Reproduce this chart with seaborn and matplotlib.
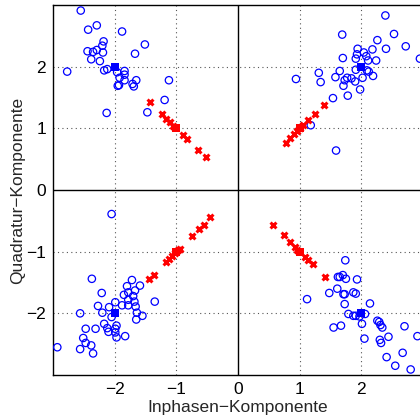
import numpy as np
import pandas as pd
import matplotlib
matplotlib.use("Agg")
import matplotlib.pyplot as plt
import seaborn as sns

# Received symbols (noisy), blue circles
rx_I = [
    # quadrant (-,+)
    -2.55, -2.43, -2.29, -1.88, -2.18, -2.20, -1.51, -2.44, -2.35, -2.29, -2.19, -1.67,
    -2.38, -2.24, -2.77, -2.17, -2.12, -1.96, -1.84, -1.84, -1.92, -1.84, -1.65, -1.93,
    -1.95, -1.71, -1.69, -1.12, -1.19, -1.47, -2.13,
    # quadrant (+,+)
    2.39, 1.69, 2.53, 2.26, 2.72, 2.40, 1.94, 2.18, 2.04, 1.93, 2.08, 2.95, 1.70, 1.91,
    2.11, 2.24, 1.91, 2.09, 2.12, 1.65, 1.31, 2.19, 2.02, 1.58, 1.77, 1.84, 1.73, 1.90,
    1.71, 0.94, 1.34, 1.98, 1.78, 1.54, 1.18, 1.59,
    # quadrant (-,-)
    -2.05, -2.37, -1.72, -1.80, -1.59, -2.21, -1.78, -1.67, -1.85, -1.70, -1.78, -1.68,
    -1.35, -1.99, -2.27, -2.09, -1.88, -1.78, -1.66, -2.20, -2.56, -1.64, -2.05, -1.55,
    -1.65, -2.17, -2.12, -1.97, -1.99, -2.47, -2.31, -2.10, -1.99, -1.97, -1.83, -2.51,
    -2.47, -2.38, -2.93, -2.56, -2.35,
    # quadrant (+,-)
    1.74, 1.62, 1.65, 1.70, 1.75, 1.93, 1.61, 1.48, 1.71, 1.73, 1.87, 1.91, 1.12, 1.73,
    2.14, 1.79, 1.87, 1.91, 2.06, 1.97, 2.26, 2.29, 1.55, 1.67, 2.01, 2.31, 2.34, 2.70,
    2.05, 2.44, 2.91, 2.30, 2.32, 2.67, 2.41, 2.55, 2.80,
]
rx_Q = [
    2.91, 2.60, 2.67, 2.57, 2.41, 2.34, 2.36, 2.25, 2.24, 2.27, 2.23, 2.21,
    2.12, 2.09, 1.92, 1.94, 1.96, 1.91, 1.93, 1.87, 1.82, 1.78, 1.78, 1.70,
    1.69, 1.72, 1.68, 1.78, 1.46, 1.26, 1.25,
    2.83, 2.52, 2.53, 2.43, 2.33, 2.29, 2.29, 2.28, 2.23, 2.20, 2.17, 2.13, 2.14, 2.13,
    2.10, 2.10, 1.95, 1.94, 1.92, 1.93, 1.90, 1.85, 1.82, 1.83, 1.82, 1.81, 1.78, 1.76,
    1.69, 1.80, 1.75, 1.63, 1.53, 1.49, 1.05, 0.64,
    -0.39, -1.44, -1.46, -1.56, -1.55, -1.67, -1.66, -1.63, -1.70, -1.72, -1.78, -1.81,
    -1.81, -1.82, -1.88, -1.90, -1.87, -1.87, -1.89, -1.99, -2.00, -1.99, -2.06, -2.04,
    -2.10, -2.17, -2.24, -2.20, -2.25, -2.25, -2.25, -2.30, -2.31, -2.39, -2.37, -2.40,
    -2.48, -2.52, -2.55, -2.58, -2.65,
    -1.14, -1.41, -1.41, -1.38, -1.44, -1.45, -1.60, -1.67, -1.69, -1.69, -1.66, -1.68, -1.77, -1.85,
    -1.84, -2.01, -2.04, -2.04, -2.01, -2.05, -2.12, -2.14, -2.23, -2.20, -2.17, -2.19, -2.23, -2.21,
    -2.41, -2.38, -2.37, -2.43, -2.48, -2.64, -2.71, -2.85, -2.91,
]

# Ideal constellation points (blue filled squares)
ref_I = [-2, 2, -2, 2]
ref_Q = [2, 2, -2, -2]

# Second symbol set (red crosses)
x_I = [
    -1.42, -1.23, -1.16, -1.10, -1.05, -0.89, -0.83, -0.65, -0.52,
    1.39, 1.25, 1.13, 0.78, 0.84, 0.90, 0.95, 1.00, 1.06,
    -1.45, -1.37, -1.17, -1.12, -1.07, -1.02, -0.98, -0.94, -0.74, -0.63, -0.55, -0.45,
    0.56, 0.75, 0.85, 0.93, 0.96, 1.09, 1.13, 1.21, 1.41,
]
x_Q = [
    1.42, 1.23, 1.15, 1.10, 1.04, 0.89, 0.83, 0.65, 0.53,
    1.38, 1.23, 1.13, 0.77, 0.84, 0.90, 0.96, 1.00, 1.06,
    -1.45, -1.38, -1.17, -1.12, -1.07, -1.02, -0.98, -0.95, -0.74, -0.64, -0.56, -0.43,
    -0.56, -0.73, -0.85, -0.92, -0.97, -1.08, -1.13, -1.20, -1.41,
]
xref_I = [-1, 1, -1, 1]
xref_Q = [1, 1, -1, -1]

ticks = [-2, -1, 0, 1, 2]

sns.set_style("white")
plt.rcParams['font.family'] = ['Liberation Sans', 'DejaVu Sans']

fig = plt.figure(figsize=(4.2, 4.17), dpi=100)
ax = fig.add_axes([53/420, 42/417, 370/420, 370/417])

ax.axhline(0, color='black', lw=1.0, zorder=1)
ax.axvline(0, color='black', lw=1.0, zorder=1)
for t in [-2, -1, 1, 2]:
    ax.axhline(t, color='#555555', lw=0.8, ls=(0, (1, 3)), zorder=0)
    ax.axvline(t, color='#555555', lw=0.8, ls=(0, (1, 3)), zorder=0)

df_rx = pd.DataFrame({'I': rx_I, 'Q': rx_Q})
df_ref = pd.DataFrame({'I': ref_I, 'Q': ref_Q})
df_x = pd.DataFrame({'I': x_I, 'Q': x_Q})
df_xref = pd.DataFrame({'I': xref_I, 'Q': xref_Q})

sns.scatterplot(data=df_rx, x='I', y='Q', ax=ax, marker='o', s=28,
                facecolors='none', edgecolor='#0000ff', linewidth=0.9, zorder=3)
sns.scatterplot(data=df_ref, x='I', y='Q', ax=ax, marker='s', s=32,
                color='#0000ff', edgecolor='#0000ff', linewidth=0, zorder=4)
sns.scatterplot(data=df_x, x='I', y='Q', ax=ax, marker='x', s=18,
                color='#ff0000', linewidth=2.2, zorder=3)
sns.scatterplot(data=df_xref, x='I', y='Q', ax=ax, marker='s', s=32,
                color='#ff0000', edgecolor='#ff0000', linewidth=0, zorder=4)

ax.set_xlim(-3, 3)
ax.set_ylim(-3, 3)
ax.set_xticks(ticks)
ax.set_yticks(ticks)
ax.set_xticklabels(['\u22122', '\u22121', '0', '1', '2'])
ax.set_yticklabels(['\u22122', '\u22121', '0', '1', '2'])
ax.tick_params(direction='in', length=3, width=0.8, labelsize=12.5, pad=5,
               colors='black')
ax.set_xlabel('Inphasen\u2212Komponente', fontsize=12.5, labelpad=2)
ax.set_ylabel('Quadratur\u2212Komponente', fontsize=12.5, labelpad=1)
for side in ['left', 'bottom', 'top', 'right']:
    ax.spines[side].set_color('black')
    ax.spines[side].set_linewidth(1.0)
ax.grid(False)

fig.savefig('out.png', dpi=100)
